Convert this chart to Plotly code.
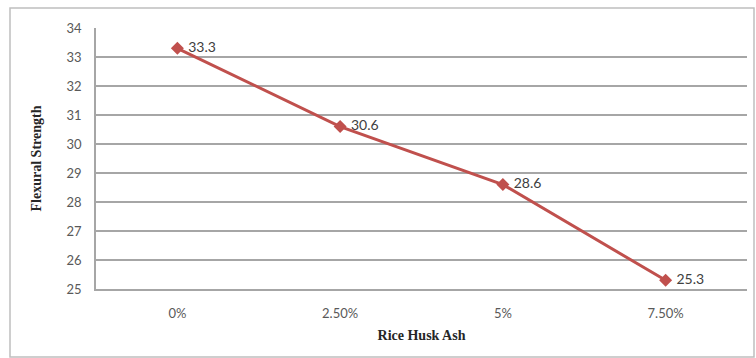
import plotly.graph_objects as go

# Flexural strength versus rice husk ash replacement
categories = ["0%", "2.50%", "5%", "7.50%"]
strength = [33.3, 30.6, 28.6, 25.3]
y_ticks = [25, 26, 27, 28, 29, 30, 31, 32, 33, 34]

line_red = "#c0504d"
grid_gray = "#a6a6a6"
tick_gray = "#595959"

fig = go.Figure()
fig.add_trace(go.Scatter(
    x=categories,
    y=strength,
    mode="lines+markers+text",
    line=dict(color=line_red, width=3),
    marker=dict(symbol="diamond", size=10, color=line_red),
    text=[" " + f"{v:.1f}" for v in strength],
    textposition="middle right",
    textfont=dict(family="Lato, Open Sans, sans-serif", size=14, color="#404040"),
    cliponaxis=False,
    showlegend=False,
))

fig.update_layout(
    width=756,
    height=358,
    margin=dict(l=96, r=9, t=28, b=69),
    paper_bgcolor="white",
    plot_bgcolor="white",
    xaxis=dict(
        type="category",
        range=[-0.5, 3.5],
        showgrid=False,
        showline=True,
        linecolor=grid_gray,
        linewidth=1.5,
        ticks="",
        ticklabelstandoff=12,
        tickfont=dict(family="Lato, Open Sans, sans-serif", size=13, color=tick_gray),
        title=dict(
            text="<b>Rice Husk Ash</b>",
            font=dict(family="Liberation Serif, Times New Roman, serif", size=14, color="#262626"),
            standoff=10,
        ),
    ),
    yaxis=dict(
        range=[25, 34],
        tickvals=y_ticks,
        showgrid=True,
        gridcolor=grid_gray,
        gridwidth=1.5,
        showline=True,
        linecolor=grid_gray,
        linewidth=1.5,
        zeroline=False,
        ticks="",
        ticklabelstandoff=10,
        tickfont=dict(family="Lato, Open Sans, sans-serif", size=13, color=tick_gray),
        title=dict(
            text="<b>Flexural Strength</b>",
            font=dict(family="Liberation Serif, Times New Roman, serif", size=14, color="#262626"),
            standoff=22,
        ),
    ),
    shapes=[
        dict(
            type="rect",
            xref="paper",
            yref="paper",
            x0=(10 - 96) / 651,
            x1=(754 - 96) / 651,
            y0=(289 - 357) / 261,
            y1=(289 - 8) / 261,
            line=dict(color="#bfbfbf", width=1.5),
            layer="below",
        )
    ],
)

fig.write_html("out.html")
